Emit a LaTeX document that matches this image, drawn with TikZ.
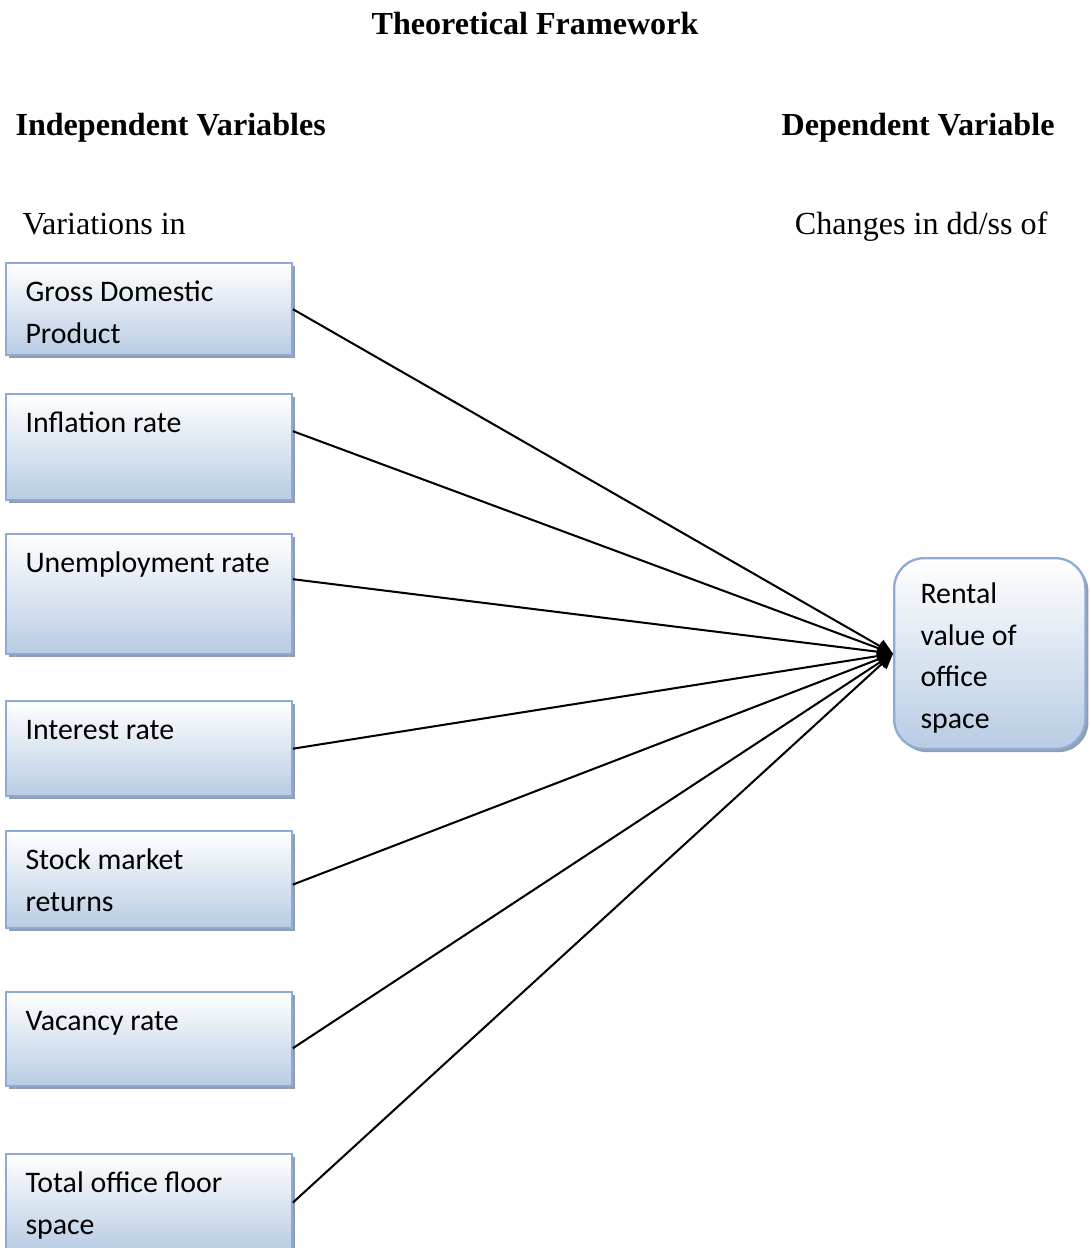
\documentclass[tikz,border=0pt]{standalone}
\usepackage{fontspec}
\setmainfont{Liberation Serif}
\newfontfamily\calib{Carlito}
\usetikzlibrary{positioning,calc,arrows.meta,shadows}
\definecolor{boxline}{HTML}{8EAAD6}
\definecolor{boxfill}{HTML}{B8CCE4}
\definecolor{boxshade}{HTML}{949EAB}
\tikzset{
  vbox/.style  = {draw=boxline, line width=0.9pt, top color=white,
                  bottom color=boxfill, minimum width=112pt, inner sep=0pt,
                  anchor=north west,
                  drop shadow={shadow xshift=1.2pt, shadow yshift=-1.2pt,
                               fill=boxshade, opacity=1}},
  rbox/.style  = {vbox, rounded corners=11.8pt, minimum width=75pt,
                  minimum height=74.9pt},
  vtext/.style = {font=\calib\fontsize{11.7}{16.3}\selectfont, align=left,
                  inner sep=0pt, anchor=north west},
  head/.style  = {font=\bfseries\fontsize{12.6}{14}\selectfont, inner sep=0pt},
  note/.style  = {font=\fontsize{12.6}{14}\selectfont, inner sep=0pt},
  link/.style  = {line width=0.8pt, -{Triangle[length=6pt,width=5.5pt]}},
}
\begin{document}
\begin{tikzpicture}[x=0.3922pt, y=-0.3922pt]
  \useasboundingbox (0,0) rectangle (1090,1248);
  % headings
  \node[head, anchor=base] (title) at (535,35) {Theoretical Framework};
  \node[head, anchor=base west] (indep) at (15,136) {Independent Variables};
  \node[head, anchor=base east] (dep) at (1055,136) {Dependent Variable};
  \node[note, anchor=base west] (vari) at (22,235) {Variations in};
  \node[note, anchor=base east] (chng) at (1048,235) {Changes in dd/ss of};
  % independent variables
  \node[vbox, minimum height=36.1pt] (gdp) at (5,262) {};
  \node[vtext] (tgdp) at ($(gdp.north west)+(20,10)$) {\strut Gross Domestic\\Product};
  \node[vbox, minimum height=41.6pt] (infl) at (5,393) {};
  \node[vtext] (tinfl) at ($(infl.north west)+(20,10)$) {\strut Inflation rate};
  \node[vbox, minimum height=47.1pt] (unemp) at (5,533) {};
  \node[vtext] (tunemp) at ($(unemp.north west)+(20,10)$) {\strut Unemployment rate};
  \node[vbox, minimum height=37.3pt] (intr) at (5,700) {};
  \node[vtext] (tintr) at ($(intr.north west)+(20,10)$) {\strut Interest rate};
  \node[vbox, minimum height=38pt] (stock) at (5,830) {};
  \node[vtext] (tstock) at ($(stock.north west)+(20,10)$) {\strut Stock market\\returns};
  \node[vbox, minimum height=36.9pt] (vac) at (5,991) {};
  \node[vtext] (tvac) at ($(vac.north west)+(20,10)$) {\strut Vacancy rate};
  \node[vbox, minimum height=38pt] (floor) at (5,1153) {};
  \node[vtext] (tfloor) at ($(floor.north west)+(20,10)$) {\strut Total office floor\\space};
  % dependent variable
  \node[rbox] (rent) at (893,557) {};
  \node[vtext] (trent) at ($(rent.north west)+(27,17)$) {\strut Rental\\value of\\office\\space};
  % links
  \draw[link] (gdp.east) -- (rent.west);
  \draw[link] ($(infl.east)+(0,-16)$) -- (rent.west);
  \draw[link] ($(unemp.east)+(0,-15)$) -- (rent.west);
  \draw[link] (intr.east) -- (rent.west);
  \draw[link] ($(stock.east)+(0,5)$) -- (rent.west);
  \draw[link] ($(vac.east)+(0,9)$) -- (rent.west);
  \draw[link] (floor.east) -- (rent.west);
\end{tikzpicture}
\end{document}
